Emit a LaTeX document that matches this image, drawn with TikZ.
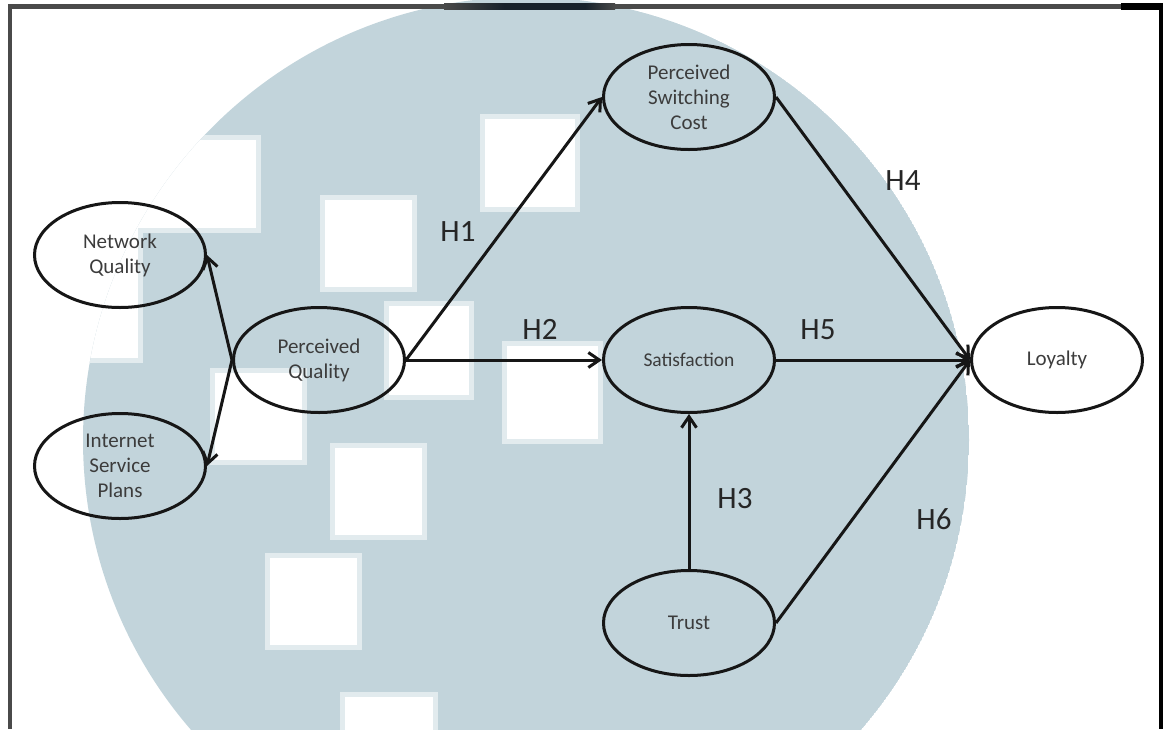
\documentclass[tikz,border=0pt]{standalone}
\usepackage{fontspec}
\setmainfont{Carlito}
\usetikzlibrary{shapes.geometric,arrows.meta}
\definecolor{wmblue}{HTML}{C2D4DB}
\definecolor{wmhalo}{HTML}{E2EBEE}
\definecolor{inkline}{HTML}{161616}
\definecolor{nodetext}{HTML}{3C3C3C}
\definecolor{labeltext}{HTML}{262626}
\definecolor{framegray}{HTML}{4A4A4A}
\definecolor{smudge}{HTML}{18222B}

\begin{document}
\begin{tikzpicture}[x=1pt,y=-1pt,
  construct/.style={ellipse, draw=inkline, line width=3pt,
    minimum width=171pt, minimum height=105pt, inner sep=0pt},
  ctext/.style={font=\fontsize{21}{25}\selectfont, text=nodetext, align=center},
  link/.style={draw=inkline, line width=3pt,
    -{Straight Barb[length=11pt,width=15pt]}},
  hyp/.style={font=\fontsize{31}{31}\selectfont, text=labeltext, inner sep=0pt}
]
\useasboundingbox (0,0) rectangle (1163,729);
\fill[white] (0,0) rectangle (1163,729);

% background emblem: pale disc with square cut-outs
\begin{scope}
  \clip (0,0) rectangle (1163,729);
  \clip (526,440) circle (443pt);
  \fill[wmblue] (526,440) circle (443pt);
  \foreach \x/\y/\w/\h in {0/140/256/88, 325/200/87/87, 485/119/90/88,
      389/306/80/89, 215/373/87/87, 335/448/87/87, 270/558/87/87,
      345/697/88/90, 507/346/91/93, 0/222/138/136} {
    \fill[wmhalo] (\x-5,\y-5) rectangle ++(\w+10,\h+10);
  }
  \foreach \x/\y/\w/\h in {0/140/256/88, 325/200/87/87, 485/119/90/88,
      389/306/80/89, 215/373/87/87, 335/448/87/87, 270/558/87/87,
      345/697/88/90, 507/346/91/93, 0/222/138/136} {
    \fill[white] (\x,\y) rectangle ++(\w,\h);
  }
\end{scope}

% frame
\fill[framegray] (8,4) rectangle (12,729);
\fill[framegray] (8,4) rectangle (1121,8.5);
\shade[left color=framegray, right color=smudge] (444,3) rectangle (504,9.5);
\fill[smudge] (504,3) rectangle (585,9.5);
\shade[left color=smudge, right color=framegray] (585,3) rectangle (615,9.5);
\fill[black] (1121,3) rectangle (1163,9.5);
\fill[black] (1159,3) rectangle (1163,729);

% constructs
\node[construct, label={[ctext]center:Network\\Quality}] (nq) at (120,255) {};
\node[construct, label={[ctext]center:Internet\\Service\\Plans}] (isp) at (120,466) {};
\node[construct, label={[ctext]center:Perceived\\Quality}] (pq) at (319,360) {};
\node[construct, label={[ctext]center:Perceived\\Switching\\Cost}] (psc) at (689,97) {};
\node[construct, label={[ctext,font=\fontsize{19.5}{24}\selectfont]center:Satisfaction}] (sat) at (689,360) {};
\node[construct, label={[ctext]center:Trust}] (trust) at (689,623) {};
\node[construct, label={[ctext]center:Loyalty}] (loy) at (1057,360) {};

% paths
\draw[link] (pq.west) -- (nq.east);
\draw[link] (pq.west) -- (isp.east);
\draw[link] (pq.east) -- (psc.west);
\draw[link] (pq.east) -- (sat.west);
\draw[link] (trust.north) -- (sat.south);
\draw[link] (psc.east) -- (loy.west);
\draw[link] (sat.east) -- (loy.west);
\draw[link] (trust.east) -- (loy.west);

% hypothesis labels
\node[hyp] (h1) at (458,232) {H1};
\node[hyp] (h2) at (540,329) {H2};
\node[hyp] (h3) at (735,499) {H3};
\node[hyp] (h4) at (903,181) {H4};
\node[hyp] (h5) at (818,330) {H5};
\node[hyp] (h6) at (934,519) {H6};
\end{tikzpicture}
\end{document}
